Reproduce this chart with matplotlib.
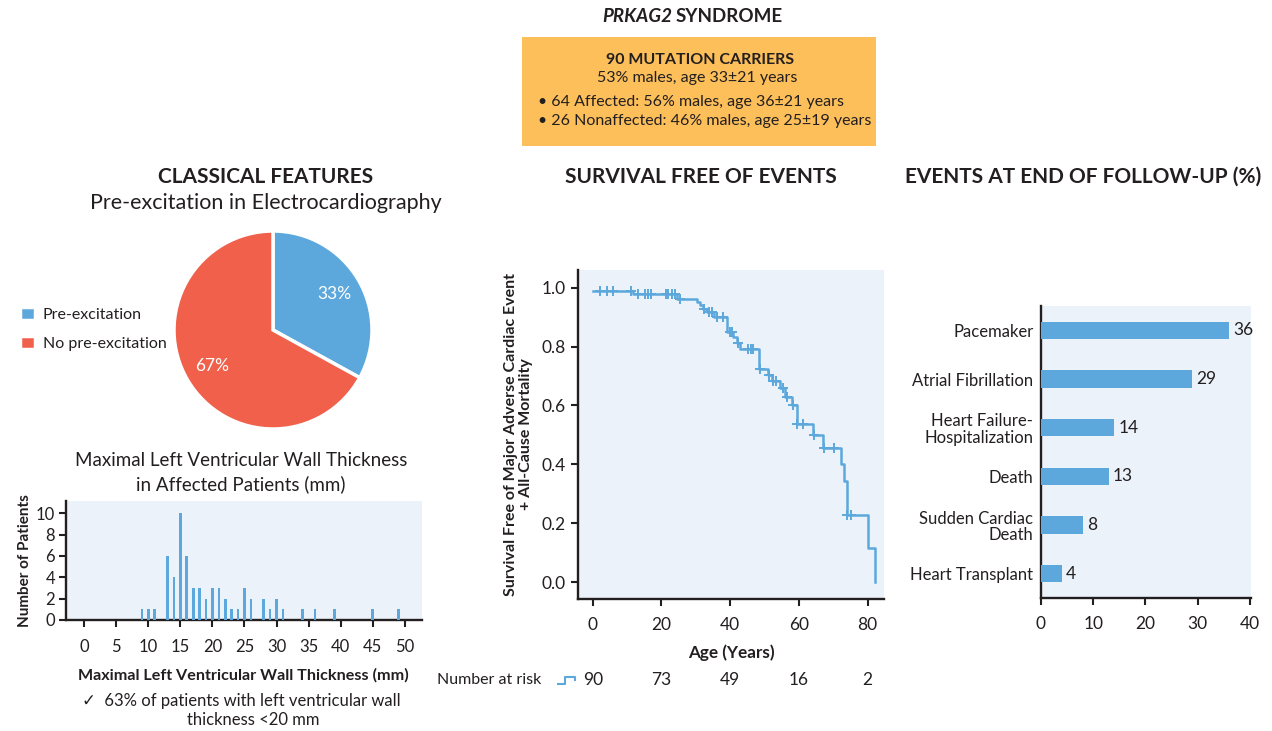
import matplotlib
matplotlib.use("Agg")
import matplotlib.pyplot as plt
from matplotlib.lines import Line2D
from matplotlib.patches import Rectangle
import matplotlib.transforms as mtransforms

# ---------------- data ----------------
pie_labels = ["Pre-excitation", "No pre-excitation"]
pie_values = [33, 67]

lvwt_mm = [9, 10, 11, 13, 14, 15, 16, 17, 18, 19, 20, 21, 22, 23, 24, 25, 26, 28, 29, 30, 31, 34, 36, 39, 45, 49]
lvwt_n = [1, 1, 1, 6, 4, 10, 6, 3, 3, 2, 3, 3, 2, 1, 1, 3, 2, 2, 1, 2, 1, 1, 1, 1, 1, 1]

km_time = [0, 11.8, 24.6, 30.3, 31.2, 32.0, 33.2, 35.3, 39.0, 40.9, 41.9, 42.9, 48.4, 51.1, 52.1,
           54.5, 56.0, 57.9, 59.4, 64.2, 67.1, 72.2, 73.1, 73.9, 80.0, 82.2]
km_surv = [0.99, 0.977, 0.963, 0.951, 0.940, 0.929, 0.918, 0.901, 0.850, 0.833, 0.812, 0.793, 0.725,
           0.703, 0.683, 0.661, 0.630, 0.601, 0.537, 0.499, 0.456, 0.400, 0.344, 0.228, 0.115, 0.0]
cens_time = [2.1, 4.1, 6.0, 11.1, 13.1, 15.2, 16.2, 17.0, 21.3, 22.0, 23.0, 24.0, 25.4, 32.5, 33.9, 34.6,
             36.1, 38.0, 40.0, 40.6, 42.4, 45.3, 46.1, 46.8, 48.8, 51.4, 52.6, 53.4, 55.3, 56.5, 58.4,
             59.6, 61.1, 64.4, 67.3, 70.3, 74.1, 75.1]
cens_surv = [0.99, 0.99, 0.99, 0.99, 0.977, 0.977, 0.977, 0.977, 0.977, 0.977, 0.977, 0.977, 0.963, 0.929,
             0.918, 0.918, 0.901, 0.901, 0.850, 0.850, 0.812, 0.793, 0.793, 0.793, 0.725, 0.703, 0.683,
             0.683, 0.661, 0.630, 0.601, 0.537, 0.537, 0.499, 0.456, 0.456, 0.228, 0.228]
risk_ages = [0, 20, 40, 60, 80]
risk_n = [90, 73, 49, 16, 2]

event_labels = ["Pacemaker", "Atrial Fibrillation", "Heart Failure-\nHospitalization", "Death",
                "Sudden Cardiac\nDeath", "Heart Transplant"]
event_pct = [36, 29, 14, 13, 8, 4]

# ---------------- style ----------------
W, H = 1272, 731
BLUE = "#5CA8DC"
RED = "#F0604B"
ORANGE = "#FDBF5A"
BG = "#EBF2FA"
DARK = "#231F20"
FONT = ["Lato", "DejaVu Sans"]
plt.rcParams["font.family"] = FONT
plt.rcParams["text.color"] = DARK
plt.rcParams["axes.labelcolor"] = DARK
plt.rcParams["xtick.color"] = DARK
plt.rcParams["ytick.color"] = DARK

fig = plt.figure(figsize=(W / 100, H / 100), dpi=100)
fig.patch.set_facecolor("white")


def ax_px(l, t, r, b):
    return fig.add_axes([l / W, 1 - b / H, (r - l) / W, (b - t) / H])


def ftext(x, y, s, **kw):
    fig.text(x / W, 1 - y / H, s, **kw)


def style_axes(ax):
    ax.set_facecolor(BG)
    for s in ["top", "right"]:
        ax.spines[s].set_visible(False)
    for s in ["left", "bottom"]:
        ax.spines[s].set_linewidth(1.7)
        ax.spines[s].set_color(DARK)
    ax.tick_params(direction="out", length=4.8, width=1.5)


# ---------------- header ----------------
ftext(672, 17, "PRKAG2", ha="right", va="center", fontsize=13.5, fontweight="bold", style="italic")
ftext(676, 17, "SYNDROME", ha="left", va="center", fontsize=13.5, fontweight="bold")
fig.patches.append(Rectangle((522 / W, 1 - 146 / H), (876 - 522) / W, (146 - 37) / H,
                             transform=fig.transFigure, facecolor=ORANGE, edgecolor="none"))
ftext(700, 60, "90 MUTATION CARRIERS", ha="center", va="center", fontsize=11.5, fontweight="bold")
ftext(697, 78, "53% males, age 33±21 years", ha="center", va="center", fontsize=11.5)
ftext(538, 102, "• 64 Affected: 56% males, age 36±21 years", ha="left", va="center", fontsize=11.5)
ftext(538, 121, "• 26 Nonaffected: 46% males, age 25±19 years", ha="left", va="center", fontsize=11.5)

# section headings
ftext(266, 177, "CLASSICAL FEATURES", ha="center", va="center", fontsize=15, fontweight="bold")
ftext(266, 203, "Pre-excitation in Electrocardiography", ha="center", va="center", fontsize=15.5)
ftext(701, 177, "SURVIVAL FREE OF EVENTS", ha="center", va="center", fontsize=15, fontweight="bold")
ftext(1083, 177, "EVENTS AT END OF FOLLOW-UP (%)", ha="center", va="center", fontsize=15, fontweight="bold")

# ---------------- pie ----------------
axp = ax_px(174, 231, 372, 429)
wedges, _, autot = axp.pie(pie_values, colors=[BLUE, RED], startangle=90, counterclock=False,
                           autopct="%d%%", pctdistance=0.72, radius=1.0,
                           wedgeprops=dict(edgecolor="white", linewidth=2.5),
                           textprops=dict(color="white", fontsize=12.5))
axp.set_xlim(-1.0, 1.0)
axp.set_ylim(-1.0, 1.0)
axp.set_aspect("equal")
axp.legend(wedges, pie_labels, loc="center left", bbox_to_anchor=(6 / W, 1 - 329 / H),
           bbox_transform=fig.transFigure, frameon=False, fontsize=11.5,
           handlelength=0.9, handleheight=0.9, handletextpad=0.5, labelspacing=0.85)

# ---------------- histogram ----------------
axh = ax_px(66, 501, 422, 620)
style_axes(axh)
axh.bar(lvwt_mm, lvwt_n, width=0.42, color=BLUE, zorder=3)
axh.set_xlim(-2.85, 52.7)
axh.set_ylim(0, 11.15)
axh.set_xticks(range(0, 51, 5))
axh.set_yticks(range(0, 11, 2))
axh.tick_params(axis="x", pad=9, labelsize=12)
axh.tick_params(axis="y", labelsize=12, pad=3)
axh.set_ylabel("Number of Patients", fontsize=11, fontweight="bold", labelpad=3)
ftext(241, 461, "Maximal Left Ventricular Wall Thickness", ha="center", va="center", fontsize=13.5)
ftext(241, 484, "in Affected Patients (mm)", ha="center", va="center", fontsize=13.5)
ftext(243, 675, "Maximal Left Ventricular Wall Thickness (mm)", ha="center", va="center",
      fontsize=11.6, fontweight="bold")
ftext(241, 701, "✓  63% of patients with left ventricular wall", ha="center", va="center", fontsize=12,
      family=FONT)
ftext(253, 720, "thickness <20 mm", ha="center", va="center", fontsize=12)

# ---------------- survival ----------------
axs = ax_px(578, 270, 884, 599)
style_axes(axs)
axs.step(km_time, km_surv, where="post", color=BLUE, lw=1.8, zorder=3)
axs.plot(cens_time, cens_surv, linestyle="none", marker="+", markersize=7, mew=1.4, color=BLUE, zorder=4)
axs.set_xlim(-4.3, 84.8)
axs.set_ylim(-0.057, 1.06)
axs.set_xticks(risk_ages)
axs.set_yticks([0, 0.2, 0.4, 0.6, 0.8, 1.0])
axs.set_yticklabels(["0.0", "0.2", "0.4", "0.6", "0.8", "1.0"])
axs.tick_params(labelsize=12.5)
axs.tick_params(axis="y", pad=4)
axs.tick_params(axis="x", pad=8.5)
axs.set_xlabel("Age (Years)", fontsize=12.3, fontweight="bold", labelpad=8)
axs.set_ylabel("Survival Free of Major Adverse Cardiac Event\n+ All-Cause Mortality", fontsize=11.5,
               fontweight="bold", labelpad=6, linespacing=1.1)

trans = mtransforms.blended_transform_factory(axs.transData, fig.transFigure)
for a, n in zip(risk_ages, risk_n):
    axs.text(a, 1 - 680 / H, str(n), transform=trans, ha="center", va="center", fontsize=12.5,
             clip_on=False)
ftext(437, 680, "Number at risk", ha="left", va="center", fontsize=11.5)
fig.lines.append(Line2D(
    [558 / W, 565 / W, 565 / W, 575 / W, 575 / W],
    [1 - 684 / H, 1 - 684 / H, 1 - 677 / H, 1 - 677 / H, 1 - 680 / H],
    transform=fig.transFigure, color=BLUE, lw=1.5))

# ---------------- events bar chart ----------------
axb = ax_px(1041, 306, 1251, 598)
style_axes(axb)
ypos = list(range(len(event_labels)))
axb.barh(ypos, event_pct, height=0.36, color=BLUE, zorder=3)
axb.set_ylim(len(event_labels) - 0.5, -0.5)
axb.set_xlim(0, 40.2)
axb.set_xticks([0, 10, 20, 30, 40])
axb.set_yticks(ypos)
axb.set_yticklabels(event_labels, fontsize=12, linespacing=1.05)
for lab in axb.get_yticklabels():
    lab.set_horizontalalignment("right")
axb.tick_params(axis="y", length=0, pad=5.5)
axb.tick_params(axis="x", labelsize=12.5, pad=8.5)
for y, v in zip(ypos, event_pct):
    axb.text(v + 0.8, y, str(v), va="center", ha="left", fontsize=12.5)

fig.savefig("out.png", dpi=100)
